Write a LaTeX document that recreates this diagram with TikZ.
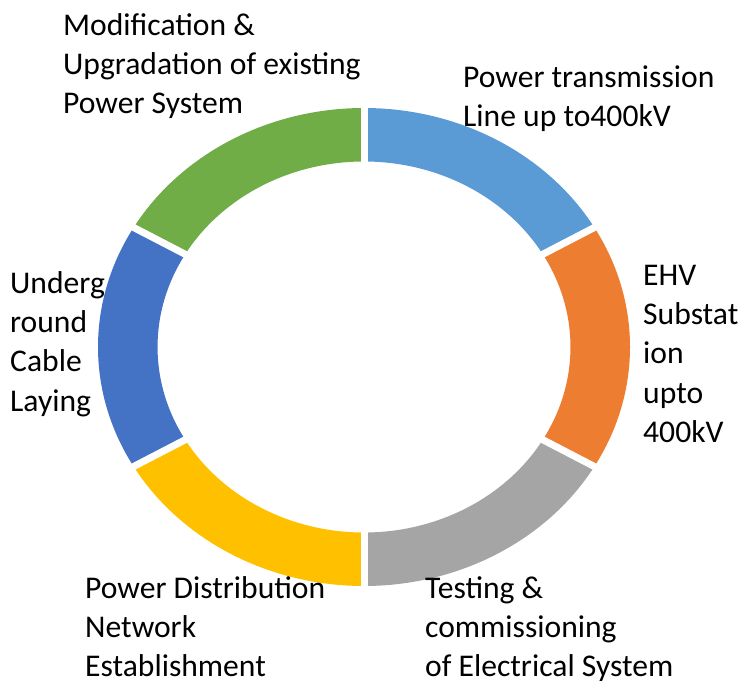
\documentclass[tikz,border=0pt]{standalone}
\usepackage{fontspec}
\setmainfont{Carlito}
\definecolor{segLightBlue}{HTML}{5B9BD5}
\definecolor{segOrange}{HTML}{ED7D31}
\definecolor{segGray}{HTML}{A5A5A5}
\definecolor{segYellow}{HTML}{FFC000}
\definecolor{segBlue}{HTML}{4472C4}
\definecolor{segGreen}{HTML}{70AD47}
\tikzset{
  % anchor sits on the baseline of the last line
  lbl/.style={anchor=base west, inner sep=0pt, align=left,
    font=\fontsize{31.6}{39.4}\selectfont, text=black},
  gapline/.style={white, line width=7pt},
}
% ring segment: #1 colour, #2 start angle, #3 end angle
\newcommand{\ringseg}[3]{%
  \fill[#1] (#2:239) arc[start angle=#2, end angle=#3, radius=239]
    -- (#3:185.5) arc[start angle=#3, end angle=#2, radius=185.5] -- cycle;}
\begin{document}
\begin{tikzpicture}[x=1pt,y=1pt]
\useasboundingbox (0,0) rectangle (741,-680);
\begin{scope}[shift={(364,-347)}, xscale=1.113]
  \coordinate (ctr) at (0,0);
  \ringseg{segLightBlue}{30}{90}
  \ringseg{segOrange}{-30}{30}
  \ringseg{segGray}{-90}{-30}
  \ringseg{segYellow}{-150}{-90}
  \ringseg{segBlue}{150}{210}
  \ringseg{segGreen}{90}{150}
  \foreach \a in {90,30,-30,-90,-150,150}
    \draw[gapline] (\a:180) -- (\a:245);
\end{scope}
\node[lbl] (modif) at (63,-113.8) {Modification \&\\Upgradation of existing\\Power System};
\node[lbl] (trans) at (463,-126.7) {Power transmission\\Line up to400kV};
\node[lbl] (ehv) at (643,-442.6) {EHV\\Substat\\ion\\upto\\400kV};
\node[lbl] (cable) at (10,-411.2) {Underg\\round\\Cable\\Laying};
\node[lbl] (distr) at (85,-676.8) {Power Distribution\\Network\\Establishment};
\node[lbl] (test) at (425,-676.8) {Testing \&\\commissioning\\of Electrical System};
\end{tikzpicture}
\end{document}
